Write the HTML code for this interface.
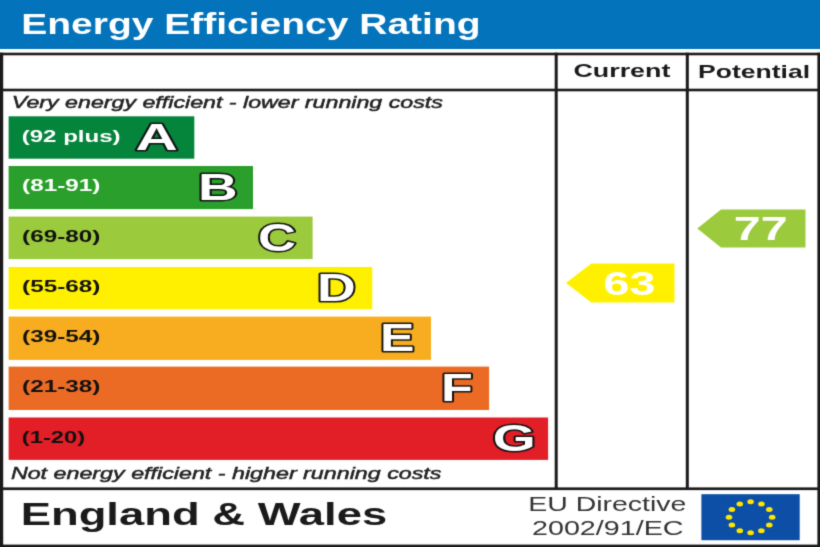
<!DOCTYPE html>
<html><head><meta charset="utf-8"><title>Energy Efficiency Rating</title>
<style>html,body{margin:0;padding:0;background:#fff;width:820px;height:547px;overflow:hidden}svg{display:block;will-change:transform}text{font-family:"Liberation Sans",sans-serif}</style>
</head><body>
<svg width="820" height="547" viewBox="0 0 820 547" font-family="Liberation Sans, sans-serif"><defs><filter id="bl" x="0" y="0" width="820" height="547" filterUnits="userSpaceOnUse" color-interpolation-filters="sRGB"><feConvolveMatrix order="3" kernelMatrix="0.03667 0.19150 0.03667 0.19150 1.00000 0.19150 0.03667 0.19150 0.03667" edgeMode="duplicate" preserveAlpha="true"/></filter></defs><g filter="url(#bl)"><rect width="820" height="547" fill="#fff"/><rect x="0" y="0" width="820" height="49.0" fill="#0373bb"/>
<text x="21.27" y="33.50" font-size="29.13" font-weight="bold" fill="#fff" textLength="459.31" lengthAdjust="spacingAndGlyphs" >Energy Efficiency Rating</text>
<rect x="0" y="52.7" width="820" height="2.6" fill="#1c1a1a"/>
<rect x="0" y="52.7" width="3.2" height="494.3" fill="#1c1a1a"/>
<rect x="817.4" y="52.7" width="2.6" height="494.3" fill="#1c1a1a"/>
<rect x="0" y="544.6" width="820" height="2.4" fill="#1c1a1a"/>
<rect x="0" y="88.7" width="820" height="2.6" fill="#1c1a1a"/>
<rect x="0" y="487.4" width="820" height="2.7" fill="#1c1a1a"/>
<rect x="554.7" y="52.7" width="3" height="436" fill="#1c1a1a"/>
<rect x="685.8" y="52.7" width="3" height="436" fill="#1c1a1a"/>
<text x="573.43" y="77.40" font-size="19.14" font-weight="bold" fill="#1a1a1a" textLength="96.98" lengthAdjust="spacingAndGlyphs" >Current</text>
<text x="698.08" y="77.50" font-size="19.28" font-weight="bold" fill="#1a1a1a" textLength="111.95" lengthAdjust="spacingAndGlyphs" >Potential</text>
<text x="11.83" y="108.30" font-size="15.80" font-style="italic" fill="#222" textLength="430.99" lengthAdjust="spacingAndGlyphs" stroke="#222" stroke-width="0.45">Very energy efficient - lower running costs</text>
<text x="10.90" y="478.70" font-size="15.94" font-style="italic" fill="#222" textLength="430.57" lengthAdjust="spacingAndGlyphs" stroke="#222" stroke-width="0.45">Not energy efficient - higher running costs</text>
<rect x="8.6" y="116.30" width="185.70" height="42.40" fill="#05843c"/>
<text x="21.70" y="141.70" font-size="15.57" font-weight="bold" fill="#fff" textLength="98.93" lengthAdjust="spacingAndGlyphs" >(92 plus)</text>
<text x="135.64" y="149.70" font-size="37.10" font-weight="bold" fill="#fff" textLength="42.25" lengthAdjust="spacingAndGlyphs" stroke="#141414" stroke-width="3.00" paint-order="stroke" stroke-linejoin="round">A</text>
<rect x="8.6" y="166.00" width="244.40" height="43.10" fill="#2a9f2b"/>
<text x="22.09" y="191.40" font-size="15.57" font-weight="bold" fill="#fff" textLength="78.20" lengthAdjust="spacingAndGlyphs" >(81-91)</text>
<text x="198.13" y="200.40" font-size="37.54" font-weight="bold" fill="#fff" textLength="39.66" lengthAdjust="spacingAndGlyphs" stroke="#141414" stroke-width="3.00" paint-order="stroke" stroke-linejoin="round">B</text>
<rect x="8.6" y="216.60" width="304.00" height="42.50" fill="#9bca3c"/>
<text x="22.09" y="242.00" font-size="15.57" font-weight="bold" fill="#111" textLength="78.20" lengthAdjust="spacingAndGlyphs" >(69-80)</text>
<text x="258.09" y="251.21" font-size="39.01" font-weight="bold" fill="#fff" textLength="38.04" lengthAdjust="spacingAndGlyphs" stroke="#141414" stroke-width="3.00" paint-order="stroke" stroke-linejoin="round">C</text>
<rect x="8.6" y="267.00" width="363.70" height="42.30" fill="#fff000"/>
<text x="22.09" y="292.40" font-size="15.57" font-weight="bold" fill="#111" textLength="78.20" lengthAdjust="spacingAndGlyphs" >(55-68)</text>
<text x="317.11" y="300.70" font-size="38.55" font-weight="bold" fill="#fff" textLength="38.75" lengthAdjust="spacingAndGlyphs" stroke="#141414" stroke-width="3.00" paint-order="stroke" stroke-linejoin="round">D</text>
<rect x="8.6" y="316.60" width="422.40" height="43.30" fill="#f7ad1f"/>
<text x="22.09" y="342.00" font-size="15.57" font-weight="bold" fill="#111" textLength="78.20" lengthAdjust="spacingAndGlyphs" >(39-54)</text>
<text x="379.94" y="351.20" font-size="38.70" font-weight="bold" fill="#fff" textLength="34.47" lengthAdjust="spacingAndGlyphs" stroke="#141414" stroke-width="3.00" paint-order="stroke" stroke-linejoin="round">E</text>
<rect x="8.6" y="366.60" width="480.50" height="43.40" fill="#ec6b24"/>
<text x="22.09" y="392.00" font-size="15.57" font-weight="bold" fill="#111" textLength="78.20" lengthAdjust="spacingAndGlyphs" >(21-38)</text>
<text x="441.11" y="401.10" font-size="37.97" font-weight="bold" fill="#fff" textLength="31.86" lengthAdjust="spacingAndGlyphs" stroke="#141414" stroke-width="3.00" paint-order="stroke" stroke-linejoin="round">F</text>
<rect x="8.6" y="417.50" width="539.50" height="42.40" fill="#e21e26"/>
<text x="21.81" y="442.90" font-size="15.57" font-weight="bold" fill="#111" textLength="63.32" lengthAdjust="spacingAndGlyphs" >(1-20)</text>
<text x="492.69" y="451.22" font-size="37.61" font-weight="bold" fill="#fff" textLength="42.98" lengthAdjust="spacingAndGlyphs" stroke="#141414" stroke-width="3.00" paint-order="stroke" stroke-linejoin="round">G</text>
<path d="M566.00,283.10 L591.30,263.60 L674.50,263.60 L674.50,302.60 L591.30,302.60 Z" fill="#fff000"/>
<text x="603.56" y="295.30" font-size="33.00" font-weight="bold" fill="#fff" textLength="51.98" lengthAdjust="spacingAndGlyphs" >63</text>
<path d="M697.30,228.60 L721.00,209.60 L805.50,209.60 L805.50,247.60 L721.00,247.60 Z" fill="#9bca3c"/>
<text x="733.82" y="239.80" font-size="33.91" font-weight="bold" fill="#fff" textLength="53.87" lengthAdjust="spacingAndGlyphs" >77</text>
<text x="20.65" y="524.80" font-size="31.88" font-weight="bold" fill="#1a1a1a" textLength="366.58" lengthAdjust="spacingAndGlyphs" >England &amp; Wales</text>
<text x="528.33" y="510.50" font-size="20.43"  fill="#333" textLength="158.01" lengthAdjust="spacingAndGlyphs" >EU Directive</text>
<text x="531.96" y="535.30" font-size="20.14"  fill="#333" textLength="151.64" lengthAdjust="spacingAndGlyphs" >2002/91/EC</text>
<rect x="701.4" y="494.2" width="98.3" height="46" fill="#0d4ea6"/>
<ellipse cx="750.60" cy="501.80" rx="3.3" ry="2.5" fill="#ffe600"/>
<ellipse cx="761.40" cy="503.88" rx="3.3" ry="2.5" fill="#ffe600"/>
<ellipse cx="769.31" cy="509.55" rx="3.3" ry="2.5" fill="#ffe600"/>
<ellipse cx="772.20" cy="517.30" rx="3.3" ry="2.5" fill="#ffe600"/>
<ellipse cx="769.31" cy="525.05" rx="3.3" ry="2.5" fill="#ffe600"/>
<ellipse cx="761.40" cy="530.72" rx="3.3" ry="2.5" fill="#ffe600"/>
<ellipse cx="750.60" cy="532.80" rx="3.3" ry="2.5" fill="#ffe600"/>
<ellipse cx="739.80" cy="530.72" rx="3.3" ry="2.5" fill="#ffe600"/>
<ellipse cx="731.89" cy="525.05" rx="3.3" ry="2.5" fill="#ffe600"/>
<ellipse cx="729.00" cy="517.30" rx="3.3" ry="2.5" fill="#ffe600"/>
<ellipse cx="731.89" cy="509.55" rx="3.3" ry="2.5" fill="#ffe600"/>
<ellipse cx="739.80" cy="503.88" rx="3.3" ry="2.5" fill="#ffe600"/></g></svg>
</body></html>
